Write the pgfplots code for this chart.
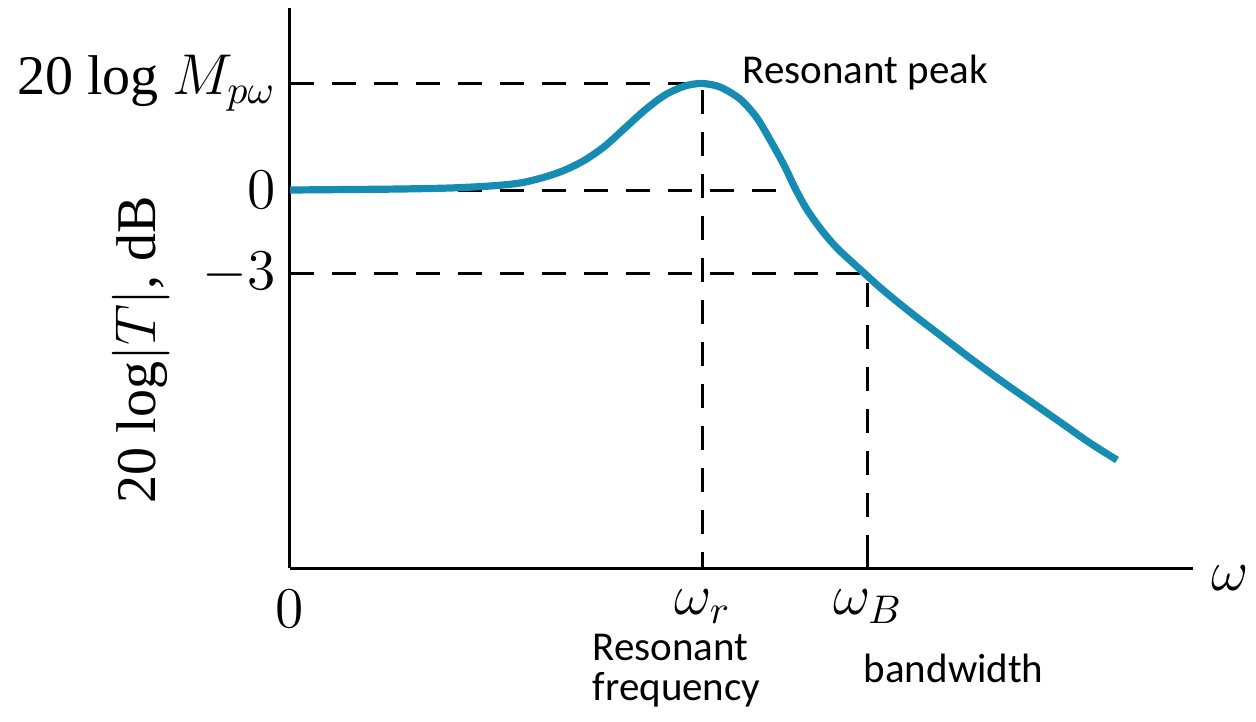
\documentclass[border=0pt]{standalone}
\usepackage{fontspec}
\setmainfont{Liberation Serif}
\newfontfamily\calibri{Carlito}
\usepackage{pgfplots}
\pgfplotsset{compat=1.18}
\definecolor{curve}{RGB}{22,140,178}
\begin{document}
\begin{tikzpicture}
\begin{axis}[
    x=0.25pt, y=0.25pt,
    xmin=0, xmax=903, ymin=0, ymax=560,
    axis x line=bottom, axis y line=left,
    axis line style={-, line width=0.75pt},
    tick align=inside, major tick length=4pt,
    tick style={black, line width=0.75pt},
    xtick={0,413,578}, xticklabels={$0$,$\omega_r$,$\omega_B$},
    ytick={295,378,485}, yticklabels={$-3$,$0$,20 log $M_{p\omega}$},
    ticklabel style={font=\fontsize{14}{16}\selectfont},
    xticklabel style={yshift=-2pt},
    ylabel={20 log$|T|$, dB},
    ylabel style={font=\fontsize{14}{16}\selectfont, at={(axis description cs:-0.117,0.39)}},
    clip=false,
]
% reference lines
\addplot[black, line width=0.75pt, dash pattern=on 6pt off 4.5pt] coordinates {(0,485) (413,485) (413,0)};
\addplot[black, line width=0.75pt, dash pattern=on 6pt off 4.5pt] coordinates {(0,378) (505,378)};
\addplot[black, line width=0.75pt, dash pattern=on 6pt off 4.5pt] coordinates {(0,295) (578,295) (578,0)};
% magnitude response
\addplot[curve, line width=1.8pt, smooth] coordinates {
    (0,378) (60,378.5) (110,379) (160,380) (200,382) (230,385) (255,391)
    (275,398) (295,408) (315,422) (335,440) (355,458) (375,473) (395,482)
    (412,484.5) (430,481) (450,469) (467,450) (483,423) (495,401) (505,380)
    (516,360) (527,344) (538,330) (550,317) (573,296) (593,278) (620,256)
    (650,233) (680,210) (710,188) (740,167) (770,146) (800,125) (827,108)
};
\node[anchor=west, inner sep=0pt, font=\fontsize{14}{16}\selectfont] at (axis cs:921,-10) {$\omega$};
\node[anchor=base west, inner sep=0pt, font=\calibri\fontsize{10.25}{12}\selectfont] at (axis cs:452,485) {Resonant peak};
\node[anchor=base west, inner sep=0pt, font=\calibri\fontsize{10.25}{12}\selectfont] at (axis cs:302,-92) {Resonant};
\node[anchor=base west, inner sep=0pt, font=\calibri\fontsize{10.25}{12}\selectfont] at (axis cs:302,-132) {frequency};
\node[anchor=base west, inner sep=0pt, font=\calibri\fontsize{10.25}{12}\selectfont] at (axis cs:573,-114) {bandwidth};
\coordinate (bl) at (axis cs:-290,-153);
\coordinate (tr) at (axis cs:966,568);
\end{axis}
\pgfresetboundingbox
\path[use as bounding box] (bl) rectangle (tr);
\end{tikzpicture}
\end{document}
